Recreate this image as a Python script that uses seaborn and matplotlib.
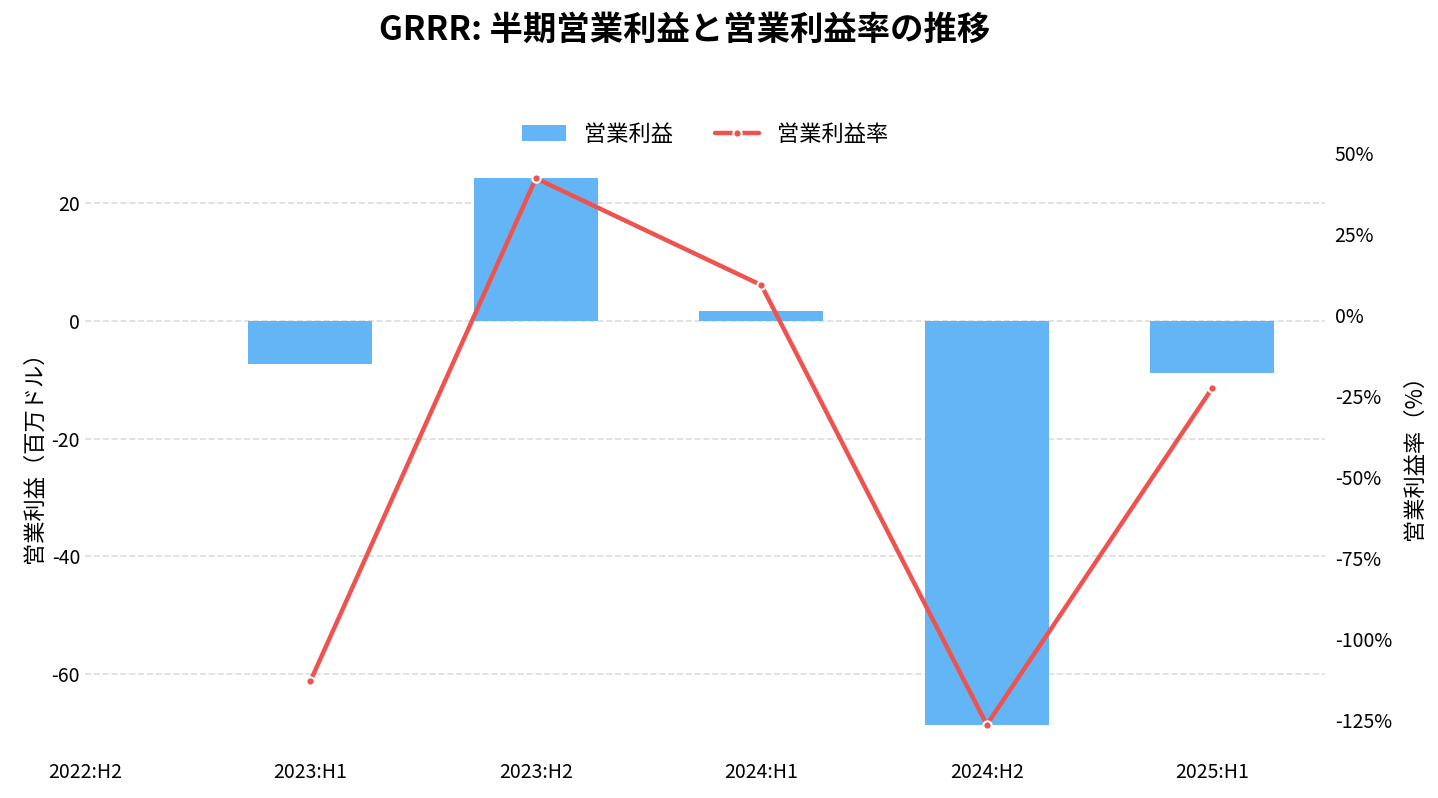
import numpy as np
import pandas as pd
import matplotlib
matplotlib.use("Agg")
import matplotlib.pyplot as plt
import matplotlib.ticker as mticker
import seaborn as sns

# data
periods = ["2022:H2", "2023:H1", "2023:H2", "2024:H1", "2024:H2", "2025:H1"]
op_income = [np.nan, -7.3, 24.2, 1.7, -68.6, -8.9]          # 百万ドル
op_margin = [np.nan, -113.0, 42.3, 9.3, -126.5, -22.5]      # %

bar_color = "#64B5F6"
line_color = "#EF5350"

sns.set_theme(style="white")
plt.rcParams["font.family"] = ["Noto Sans CJK JP", "DejaVu Sans"]
plt.rcParams["axes.unicode_minus"] = False
plt.rcParams["text.color"] = "black"
plt.rcParams["axes.labelcolor"] = "black"
plt.rcParams["xtick.color"] = "black"
plt.rcParams["ytick.color"] = "black"

df = pd.DataFrame({"period": periods, "income": op_income, "margin": op_margin})
df["pos"] = np.arange(len(df))

fig = plt.figure(figsize=(14.38, 7.98), dpi=100)
ax = fig.add_axes([0.0591, 0.0576, 0.8623, 0.7532])

sns.barplot(data=df, x="period", y="income", order=periods, color=bar_color,
            width=0.55, saturation=1, linewidth=0, ax=ax, label="営業利益")
ax.set_xlim(0, 5.5)
ax.grid(axis="y", linestyle="--", color="#dddddd", linewidth=1.2)
ax.set_axisbelow(True)
ax.set_xlabel("")
ax.set_ylabel("営業利益（百万ドル）", fontsize=16)
ax.tick_params(axis="both", labelsize=14, length=0)
ax.tick_params(axis="x", pad=7)

ax2 = ax.twinx()
sns.lineplot(data=df, x="pos", y="margin", color=line_color, linewidth=3.2,
             marker="o", markersize=6, markeredgecolor="white", markeredgewidth=1.5,
             ax=ax2, label="営業利益率", legend=False)
ax2.set_xlim(0, 5.5)
ax2.yaxis.set_major_locator(mticker.MultipleLocator(25))
ax2.yaxis.set_major_formatter(mticker.FuncFormatter(lambda v, p: f"{v:.0f}%"))
ax2.set_ylabel("営業利益率（%）", fontsize=16, labelpad=8)
ax2.tick_params(axis="y", labelsize=14, length=0, pad=7)
ax2.set_xlabel("")

for a in (ax, ax2):
    for s in a.spines.values():
        s.set_visible(False)

h1, l1 = ax.get_legend_handles_labels()
h2, l2 = ax2.get_legend_handles_labels()
if ax.get_legend() is not None:
    ax.get_legend().remove()
ax.legend(h1 + h2, l1 + l2, loc="lower center", bbox_to_anchor=(0.5, 0.975),
          ncol=2, frameon=False, fontsize=16, columnspacing=1.9)

fig.text(0.476, 0.962, "GRRR: 半期営業利益と営業利益率の推移", ha="center", va="center",
         fontsize=24, fontweight="bold")

fig.savefig("out.png", dpi=100)
